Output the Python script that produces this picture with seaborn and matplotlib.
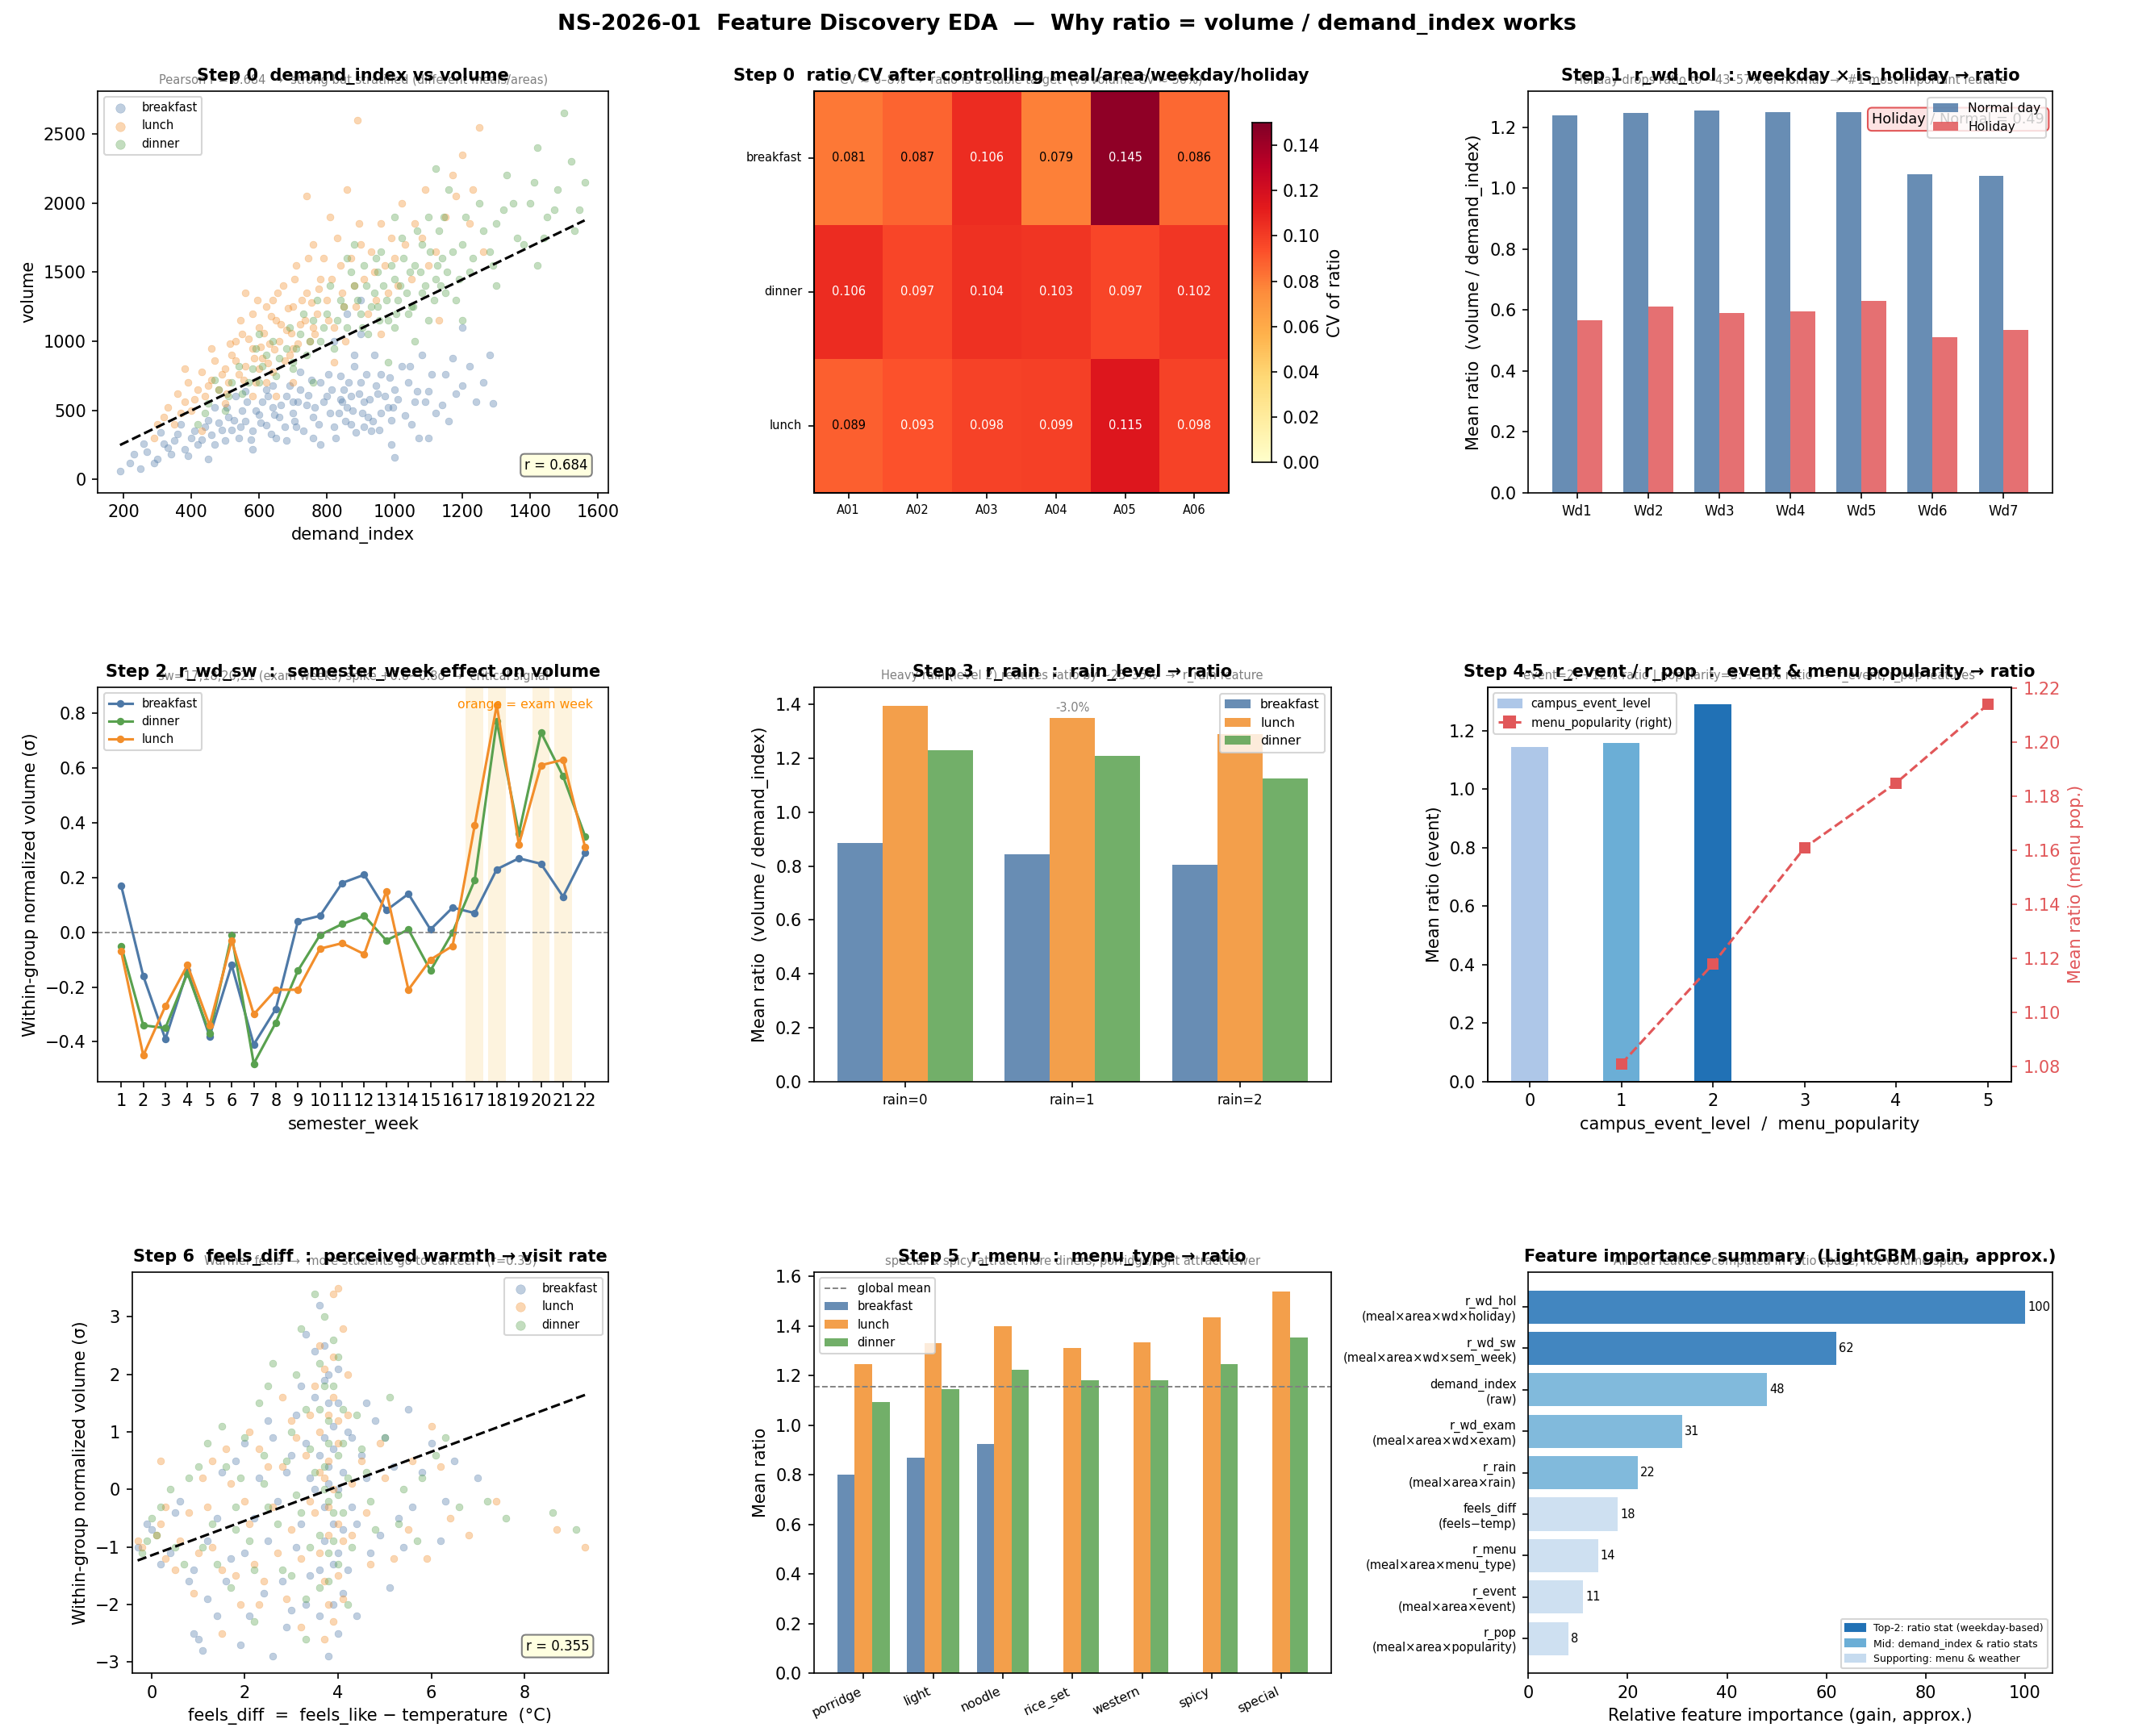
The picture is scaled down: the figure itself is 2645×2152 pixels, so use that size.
import numpy as np
import pandas as pd
import matplotlib
matplotlib.use("Agg")
import matplotlib.pyplot as plt
import seaborn as sns
from matplotlib.patches import Patch
from matplotlib.lines import Line2D

# ------------------------------------------------------------------ data
meals = ["breakfast", "lunch", "dinner"]

# Step 0: demand_index vs volume
p1_breakfast = [(190,60),(220,120),(250,80),(270,200),(300,150),(320,260),(340,180),(360,330),(380,220),
    (400,300),(420,250),(440,380),(460,320),(480,410),(500,280),(510,450),(520,360),(540,300),(550,500),
    (560,420),(580,350),(600,470),(610,560),(620,390),(640,520),(650,300),(660,450),(680,600),(700,480),
    (710,380),(720,650),(740,540),(760,450),(780,700),(800,600),(810,480),(820,380),(840,750),(850,650),
    (860,520),(870,400),(880,820),(900,700),(910,560),(920,450),(940,900),(950,620),(960,760),(980,520),
    (1000,650),(1020,820),(1040,700),(1060,560),(1080,900),(1100,640),(1120,480),(1150,760),(1180,620),
    (1220,820),(1260,700),(1290,550),(900,1050),(860,1200),(1000,160),(1100,300),(760,300),(680,280),
    (580,220),(450,150),(1200,1100),(780,250),(530,600),(470,520),(620,650),(700,560),(840,580),(960,480),
    (880,900),(1050,400),(900,1300),(820,1000),(930,350),(990,430),(870,600),(910,380),
    (230,180),(260,260),(290,120),(310,340),(330,230),(350,280),(370,400),(390,170),(410,350),(430,290),
    (450,430),(470,250),(490,360),(505,520),(525,430),(545,380),(565,560),(575,290),(590,500),(605,410),
    (625,600),(635,330),(645,470),(665,540),(675,380),(690,680),(705,420),(715,560),(730,350),(745,610),
    (755,720),(765,520),(775,400),(790,560),(805,760),(815,650),(825,300),(835,480),(845,560),(855,420),
    (865,700),(875,500),(885,340),(895,620),(905,480),(915,760),(925,580),(935,420),(945,680),(955,360),
    (970,600),(985,740),(995,520),(1010,580),(1030,460),(1045,820),(1065,640),(1090,560),(1110,760),
    (1140,540),(1170,880),(1200,680),(1240,560),(1280,900),(1160,420),(1070,300),(990,250),(720,780),
    (640,680),(560,640)]
p1_lunch = [(290,300),(320,450),(350,400),(380,560),(400,500),(420,650),(440,600),(460,720),(480,650),
    (500,800),(510,700),(520,900),(540,760),(550,1050),(560,820),(580,950),(590,700),(600,1100),(610,880),
    (620,1250),(630,980),(640,780),(650,1150),(660,1000),(670,1400),(680,1080),(690,900),(700,1250),
    (710,1550),(720,1120),(740,1350),(750,1000),(760,1700),(770,1200),(780,1450),(800,1300),(810,1900),
    (820,1100),(840,1550),(850,1250),(860,2100),(880,1400),(900,1700),(920,1200),(940,1500),(960,1850),
    (980,1350),(1000,1600),(1020,2000),(1050,1450),(1080,1750),(1100,1550),(1150,1900),(1200,2350),
    (1250,2550),(1260,1650),(890,2600),(740,2050),(560,1350),(460,950),(380,800),(650,600),(700,700),
    (820,850),(1130,1150),(960,1050),(430,350),(600,800),(580,1200),(640,1300),(530,1000),(700,950),
    (760,1100),(1180,2050),(1230,2100),
    (300,400),(330,520),(360,620),(370,480),(390,700),(410,580),(430,780),(450,680),(470,860),(490,760),
    (505,620),(515,980),(530,860),(545,1150),(555,720),(570,1020),(585,880),(595,1300),(605,960),(615,1060),
    (625,840),(635,1180),(645,940),(655,1350),(665,1120),(675,860),(685,1240),(695,1060),(705,1450),
    (715,980),(725,1300),(735,1150),(745,1600),(755,1280),(765,1050),(775,1380),(790,1600),(805,1150),
    (815,1450),(830,1750),(845,1350),(855,1000),(870,1600),(885,1250),(895,1850),(910,1450),(930,1650),
    (945,1300),(970,1550),(990,1750),(1010,1400),(1030,1700),(1060,1850),(1090,2100),(1120,1650),
    (1170,2200),(1220,1850),(580,600),(500,550),(620,700)]
p1_dinner = [(420,400),(450,550),(480,650),(500,500),(520,700),(550,620),(580,800),(600,700),(620,900),
    (650,750),(680,950),(700,850),(720,1050),(740,900),(760,1150),(780,1000),(800,1200),(820,950),
    (840,1300),(860,1100),(880,1400),(900,1200),(910,1550),(920,1050),(940,1350),(950,1250),(960,1650),
    (980,1150),(1000,1450),(1010,1300),(1020,1750),(1040,1200),(1060,1550),(1080,1350),(1100,1900),
    (1120,1450),(1140,1600),(1160,2100),(1180,1300),(1200,1700),(1220,1500),(1250,2000),(1280,1650),
    (1300,1850),(1330,2200),(1360,1750),(1400,2000),(1420,2400),(1450,1900),(1480,2100),(1500,2650),
    (1530,1800),(1560,2150),(1120,2250),(860,1600),(600,1050),(1060,1000),(1200,1150),(1420,1550),
    (980,850),(760,700),(1300,1400),(1050,1250),(1100,1150),(1150,1350),(1000,1100),(950,1500),
    (1080,1700),(1130,1800),
    (440,480),(470,720),(510,600),(540,820),(570,700),(590,950),(610,820),(640,1000),(660,880),(690,1100),
    (710,950),(730,1200),(750,1000),(770,1300),(790,1100),(810,1400),(830,1150),(850,1250),(870,1500),
    (890,1300),(905,1100),(915,1400),(930,1250),(945,1600),(955,1150),(965,1400),(975,1300),(990,1550),
    (1005,1200),(1015,1400),(1025,1600),(1035,1350),(1045,1500),(1055,1250),(1065,1800),(1075,1500),
    (1090,1400),(1105,1650),(1115,1300),(1125,1550),(1135,1400),(1145,1900),(1155,1500),(1170,1650),
    (1190,1450),(1210,1900),(1230,1600),(1260,1800),(1290,1550),(1320,1950),(1350,2000),(1380,1700),
    (1410,2150),(1440,1750),(1470,1950),(1520,2300),(1545,1950),(880,1700),(700,800),(1000,1900)]
p1_trend_slope = 1.187
p1_trend_intercept = 23.0
p1_r = 0.684

# Step 0: CV heatmap
cv_rows = ["breakfast", "dinner", "lunch"]
cv_cols = ["A01", "A02", "A03", "A04", "A05", "A06"]
cv_breakfast = [0.081, 0.087, 0.106, 0.079, 0.145, 0.086]
cv_dinner    = [0.106, 0.097, 0.104, 0.103, 0.097, 0.102]
cv_lunch     = [0.089, 0.093, 0.098, 0.099, 0.115, 0.098]

# Step 1: weekday x holiday
weekdays = ["Wd1", "Wd2", "Wd3", "Wd4", "Wd5", "Wd6", "Wd7"]
ratio_normal  = [1.240, 1.248, 1.256, 1.250, 1.250, 1.045, 1.040]
ratio_holiday = [0.565, 0.610, 0.590, 0.595, 0.630, 0.510, 0.535]
hol_over_normal = 0.49

# Step 2: semester week
sem_weeks = list(range(1, 23))
sw_breakfast = [0.17,-0.16,-0.39,-0.14,-0.38,-0.12,-0.41,-0.28,0.04,0.06,0.18,0.21,0.08,0.14,0.01,0.09,0.07,0.23,0.27,0.25,0.13,0.29]
sw_dinner    = [-0.05,-0.34,-0.35,-0.15,-0.37,-0.01,-0.48,-0.33,-0.14,-0.01,0.03,0.06,-0.03,0.01,-0.14,0.00,0.19,0.77,0.36,0.73,0.57,0.35]
sw_lunch     = [-0.07,-0.45,-0.27,-0.12,-0.34,-0.03,-0.30,-0.21,-0.21,-0.06,-0.04,-0.08,0.15,-0.21,-0.10,-0.05,0.39,0.83,0.32,0.61,0.63,0.31]
exam_weeks = [17, 18, 20, 21]

# Step 3: rain
rain_levels = ["rain=0", "rain=1", "rain=2"]
rain_breakfast = [0.885, 0.845, 0.805]
rain_lunch     = [1.395, 1.350, 1.290]
rain_dinner    = [1.230, 1.210, 1.125]
rain_note = "-3.0%"

# Step 4-5: event / popularity
event_levels = [0, 1, 2]
event_ratio = [1.145, 1.160, 1.292]
pop_levels = [1, 2, 3, 4, 5]
pop_ratio = [1.081, 1.118, 1.161, 1.185, 1.214]

# Step 6: feels_diff scatter
p7_breakfast = [(-0.3,-1.0),(-0.1,-0.6),(0.2,-1.3),(0.5,-0.4),(0.8,-1.6),(1.0,-2.6),(1.2,-0.9),(1.4,-2.2),
    (1.5,0.3),(1.7,-1.2),(1.9,-2.7),(2.0,0.8),(2.2,-0.5),(2.4,-1.8),(2.5,1.2),(2.7,-0.2),(2.9,-2.4),
    (3.0,0.6),(3.1,-1.0),(3.2,1.8),(3.3,-2.0),(3.4,0.2),(3.5,2.4),(3.6,-1.4),(3.7,0.9),(3.8,-2.9),
    (3.8,1.5),(3.9,-0.6),(4.0,2.1),(4.0,0.0),(4.1,-1.8),(4.2,1.0),(4.3,-0.3),(4.5,0.6),(4.7,-1.1),
    (5.0,0.9),(5.3,-0.5),(5.5,1.4),(5.8,0.3),(6.2,-0.9),(6.5,0.5),(7.0,0.2),(3.6,3.2),(2.6,-2.9),
    (4.4,-2.2),(5.1,-1.7),(3.3,2.7),(3.7,-0.3),(3.8,0.4),(3.9,1.1),(4.0,-1.1),(3.7,1.9),(3.9,-2.0),
    (3.6,0.6),(4.1,0.3),(1.1,-2.8),(0.9,-2.5),(4.6,1.5),(5.6,-0.3),
    (0.0,-0.7),(0.4,-1.1),(0.6,-0.2),(0.9,-1.4),(1.2,-1.9),(1.4,-0.5),(1.6,-1.6),(1.8,0.5),(2.0,-1.1),
    (2.1,-2.2),(2.3,0.2),(2.5,-0.9),(2.6,0.9),(2.8,-1.6),(2.9,0.3),(3.0,-2.1),(3.1,1.3),(3.2,-0.6),
    (3.3,0.8),(3.4,-1.5),(3.5,0.0),(3.5,1.6),(3.6,-2.2),(3.7,2.5),(3.7,-0.9),(3.8,0.1),(3.8,2.0),
    (3.9,-1.3),(3.9,0.7),(4.0,-2.5),(4.0,1.5),(4.1,-0.7),(4.2,-1.4),(4.3,0.9),(4.4,-0.6),(4.6,0.2),
    (4.8,1.2),(4.9,-0.8),(5.2,0.4),(5.4,-1.0),(6.0,0.8),(6.3,-0.2)]
p7_lunch = [(-0.2,-1.0),(0.1,-0.8),(0.3,-1.2),(0.3,-0.3),(0.6,-0.9),(0.9,-1.8),(1.1,0.2),(1.3,-1.0),
    (1.6,0.7),(1.8,-1.5),(2.0,-0.2),(2.1,1.0),(2.3,-2.0),(2.5,0.4),(2.7,-1.1),(2.8,1.6),(3.0,-0.7),
    (3.1,0.9),(3.2,-2.4),(3.4,1.3),(3.5,-0.4),(3.6,2.5),(3.7,-1.6),(3.8,0.5),(3.9,3.4),(3.9,-2.3),
    (4.0,1.2),(4.1,-0.9),(4.2,2.0),(4.3,0.1),(4.6,-0.4),(4.9,0.8),(5.2,-1.2),(5.6,0.5),(6.0,1.1),
    (6.4,-0.5),(7.4,-0.2),(8.7,-0.7),(9.3,-1.0),(1.5,-2.5),(0.2,0.5),(4.0,3.5),(3.7,0.2),(3.8,-0.8),
    (3.9,1.6),(4.0,-1.5),(3.6,1.0),(4.1,2.8),(3.8,-2.0),(2.2,-1.3),(1.2,-0.3),
    (-0.3,-0.9),(0.2,-0.6),(0.5,-1.4),(0.8,-0.4),(1.0,-1.1),(1.3,0.5),(1.5,-1.4),(1.7,0.1),(1.9,-2.0),
    (2.1,-0.6),(2.3,0.7),(2.4,-1.6),(2.6,-0.3),(2.8,0.4),(2.9,-1.9),(3.0,1.2),(3.2,-1.2),(3.3,0.6),
    (3.4,-0.2),(3.5,1.8),(3.6,-1.1),(3.6,0.3),(3.7,2.1),(3.7,-2.6),(3.8,1.3),(3.8,-0.3),(3.9,0.0),
    (3.9,2.3),(4.0,-0.6),(4.0,0.8),(4.1,-1.9),(4.2,1.3),(4.3,-0.8),(4.5,0.5),(4.7,-1.3),(5.0,0.2),
    (5.5,-0.7),(6.2,0.4),(6.8,-0.8),(5.9,-1.2)]
p7_dinner = [(-0.1,-0.9),(0.0,-0.5),(0.1,-0.8),(0.4,0.0),(0.7,-1.3),(1.0,0.4),(1.3,-0.6),(1.5,1.1),
    (1.7,-1.7),(1.9,0.2),(2.1,-0.9),(2.3,1.5),(2.5,-0.3),(2.6,2.2),(2.8,-1.4),(3.0,1.0),(3.1,-0.1),
    (3.2,2.8),(3.3,-1.9),(3.4,0.7),(3.5,3.4),(3.6,-0.8),(3.7,1.8),(3.8,-0.2),(3.9,2.6),(4.0,-1.3),
    (4.1,0.8),(4.2,-2.0),(4.4,1.3),(4.6,0.3),(4.8,-0.7),(5.1,1.6),(5.4,0.0),(5.7,-0.9),(6.1,0.6),
    (6.6,-0.3),(7.6,-0.5),(8.6,-0.4),(9.1,-0.7),(2.2,-2.3),(3.3,-2.6),(3.7,0.4),(3.8,1.2),(3.9,-0.9),
    (4.0,0.6),(3.6,2.2),(4.1,-0.4),(3.8,-1.6),(2.4,0.6),(1.8,-0.7),
    (-0.2,-1.1),(0.2,-0.3),(0.5,-1.0),(0.8,0.2),(1.1,-1.0),(1.2,0.8),(1.4,-1.3),(1.6,0.4),(1.8,-0.3),
    (2.0,0.9),(2.2,-1.4),(2.4,0.1),(2.5,1.8),(2.7,-0.6),(2.9,0.5),(3.0,-1.5),(3.1,2.0),(3.2,-0.4),
    (3.3,1.4),(3.4,-1.0),(3.5,0.3),(3.6,1.4),(3.6,-1.7),(3.7,0.0),(3.7,3.0),(3.8,-1.1),(3.8,0.8),
    (3.9,1.8),(3.9,-0.4),(4.0,2.3),(4.0,-0.1),(4.1,1.4),(4.2,0.2),(4.3,-1.0),(4.5,0.7),(4.7,-0.2),
    (5.0,0.9),(5.3,-0.6),(5.8,0.2),(6.3,0.9),(7.2,-0.2)]
p7_trend_slope = 0.30
p7_trend_intercept = -1.146
p7_r = 0.355

# Step 5: menu type
menu_types = ["porridge", "light", "noodle", "rice_set", "western", "spicy", "special"]
menu_breakfast = [0.800, 0.870, 0.925, np.nan, np.nan, np.nan, np.nan]
menu_lunch     = [1.245, 1.330, 1.400, 1.310, 1.335, 1.435, 1.540]
menu_dinner    = [1.095, 1.145, 1.225, 1.180, 1.180, 1.245, 1.355]
global_mean_ratio = 1.155

# Feature importance
feat_labels = ["r_wd_hol\n(meal×area×wd×holiday)", "r_wd_sw\n(meal×area×wd×sem_week)",
               "demand_index\n(raw)", "r_wd_exam\n(meal×area×wd×exam)", "r_rain\n(meal×area×rain)",
               "feels_diff\n(feels\u2212temp)", "r_menu\n(meal×area×menu_type)",
               "r_event\n(meal×area×event)", "r_pop\n(meal×area×popularity)"]
feat_importance = [100, 62, 48, 31, 22, 18, 14, 11, 8]
feat_group = ["top", "top", "mid", "mid", "mid", "sup", "sup", "sup", "sup"]

# ------------------------------------------------------------------ style
C_B, C_L, C_D = "#4E79A7", "#F28E2B", "#59A14F"
meal_colors = {"breakfast": C_B, "lunch": C_L, "dinner": C_D}
C_RED = "#E15759"
GROUP_COL = {"top": "#2171b5", "mid": "#6baed6", "sup": "#c6dbef"}

plt.rcParams["font.family"] = ["DejaVu Sans"]
fig = plt.figure(figsize=(2645 / 150, 2152 / 150), dpi=150)
W, H = 1568.0, 1276.0


def box(x0, y0, x1, y1):
    return [x0 / W, 1 - y1 / H, (x1 - x0) / W, (y1 - y0) / H]


def titles(ax, t, s):
    ax.text(0.5, 1.012, s, transform=ax.transAxes, ha="center", va="bottom",
            fontsize=7, color="grey")
    ax.set_title(t, fontsize=10, fontweight="bold", pad=6)


fig.suptitle("NS-2026-01  Feature Discovery EDA  \u2014  Why ratio = volume / demand_index works",
             fontsize=13, fontweight="bold", y=0.992)

# ---------------- panel 1
ax1 = fig.add_axes(box(72, 67, 447, 362))
for m, pts in zip(meals, [p1_breakfast, p1_lunch, p1_dinner]):
    a = np.array(pts, dtype=float)
    sns.scatterplot(x=a[:, 0], y=a[:, 1], ax=ax1, color=meal_colors[m], alpha=0.36, s=18,
                    linewidth=0.3, edgecolor=meal_colors[m], label=m)
allx = np.concatenate([np.array(p, float)[:, 0] for p in [p1_breakfast, p1_lunch, p1_dinner]])
lx = np.array([allx.min(), allx.max()])
ax1.plot(lx, p1_trend_slope * lx + p1_trend_intercept, "k--", lw=1.5)
ax1.text(0.96, 0.05, f"r = {p1_r:.3f}", transform=ax1.transAxes, ha="right", va="bottom", fontsize=8,
         bbox=dict(boxstyle="round,pad=0.3", fc="lightyellow", ec="grey"))
ax1.legend(loc="upper left", fontsize=7, markerscale=1.3)
ax1.set_xlabel("demand_index")
ax1.set_ylabel("volume")
ax1.set_xlim(125, 1630)
ax1.set_ylim(-95, 2810)
titles(ax1, "Step 0  demand_index vs volume",
       "Pearson r = 0.684  \u2192  strong but stratified (different meals/areas)")

# ---------------- panel 2 heatmap
ax2 = fig.add_axes(box(598, 67, 903, 362))
cax = fig.add_axes(box(920, 90, 934, 340))
cv_df = pd.DataFrame([cv_breakfast, cv_dinner, cv_lunch], index=cv_rows, columns=cv_cols)
sns.heatmap(cv_df, ax=ax2, cmap="YlOrRd", vmin=0, vmax=0.15, cbar_ax=cax, annot=False)
for i, r in enumerate(cv_rows):
    for j, c in enumerate(cv_cols):
        v = cv_df.loc[r, c]
        ax2.text(j + 0.5, i + 0.5, f"{v:.3f}", ha="center", va="center", fontsize=7,
                 color="white" if v > 0.09 else "black")
for sp in ax2.spines.values():
    sp.set_visible(True)
    sp.set_linewidth(1.0)
ax2.tick_params(labelsize=7)
ax2.set_yticklabels(cv_rows, rotation=0)
ax2.set_xlabel("")
ax2.set_ylabel("")
cax.set_ylabel("CV of ratio", fontsize=10)
cax.tick_params(labelsize=10)
cax.set_yticks([0, 0.02, 0.04, 0.06, 0.08, 0.10, 0.12, 0.14])
for sp in cax.spines.values():
    sp.set_visible(True)
titles(ax2, "Step 0  ratio CV after controlling meal/area/weekday/holiday",
       "CV \u2248 6\u20138%  \u2192  ratio is a stable target  (vs volume CV \u2248 50%)")

# ---------------- panel 3
ax3 = fig.add_axes(box(1123, 67, 1508, 362))
x = np.arange(len(weekdays))
ax3.bar(x - 0.175, ratio_normal, 0.35, color=C_B, alpha=0.85, label="Normal day")
ax3.bar(x + 0.175, ratio_holiday, 0.35, color=C_RED, alpha=0.85, label="Holiday")
ax3.set_xticks(x)
ax3.set_xticklabels(weekdays, fontsize=8)
ax3.set_ylabel("Mean ratio  (volume / demand_index)")
ax3.text(0.985, 0.93, f"Holiday / Normal = {hol_over_normal:.2f}", transform=ax3.transAxes,
         ha="right", va="center", fontsize=8.5,
         bbox=dict(boxstyle="round,pad=0.3", fc="#fde3e3", ec=C_RED))
leg = ax3.legend(loc="upper right", fontsize=7.5)
leg.set_zorder(10)
titles(ax3, "Step 1  r_wd_hol  :  weekday \u00d7 is_holiday \u2192 ratio",
       "Holiday drops ratio to ~43\u201357% of normal  \u2192  #1 most important feature")

# ---------------- panel 4
ax4 = fig.add_axes(box(72, 505, 447, 795))
for w in exam_weeks:
    ax4.axvspan(w - 0.4, w + 0.4, color="#fdebc8", alpha=0.6, lw=0)
sw_df = pd.DataFrame({"week": sem_weeks * 3,
                      "val": sw_breakfast + sw_dinner + sw_lunch,
                      "meal": ["breakfast"] * 22 + ["dinner"] * 22 + ["lunch"] * 22})
for m in ["breakfast", "dinner", "lunch"]:
    d = sw_df[sw_df.meal == m]
    sns.lineplot(data=d, x="week", y="val", ax=ax4, color=meal_colors[m], marker="o",
                 markersize=4.5, markeredgewidth=0, lw=1.5, label=m)
ax4.axhline(0, color="grey", ls="--", lw=0.8)
ax4.set_xticks(sem_weeks)
ax4.set_xlabel("semester_week")
ax4.set_ylabel("Within-group normalized volume (\u03c3)")
ax4.legend(loc="upper left", fontsize=7)
ax4.text(0.97, 0.97, "orange = exam week", transform=ax4.transAxes, ha="right", va="top",
         fontsize=7.5, color="darkorange")
titles(ax4, "Step 2  r_wd_sw  :  semester_week effect on volume",
       "sw=17,18,20,21 (exam weeks) spike +0.6~0.8\u03c3  \u2192  critical signal")

# ---------------- panel 5
ax5 = fig.add_axes(box(598, 505, 978, 795))
x = np.arange(len(rain_levels))
wd = 0.27
for k, (m, vals) in enumerate(zip(meals, [rain_breakfast, rain_lunch, rain_dinner])):
    ax5.bar(x + (k - 1) * wd, vals, wd, color=meal_colors[m], alpha=0.85, label=m)
ax5.text(x[1], rain_lunch[1] + 0.015, rain_note, ha="center", va="bottom", fontsize=7, color="grey")
ax5.set_xticks(x)
ax5.set_xticklabels(rain_levels, fontsize=8)
ax5.set_ylabel("Mean ratio  (volume / demand_index)")
ax5.legend(loc="upper right", fontsize=7.5)
titles(ax5, "Step 3  r_rain  :  rain_level \u2192 ratio",
       "Heavy rain (level 2) reduces ratio by ~25\u201335%  \u2192  r_rain feature")

# ---------------- panel 6
ax6 = fig.add_axes(box(1093, 505, 1478, 795))
ev_cols = ["#aec7e8", "#6baed6", "#2171b5"]
ax6.bar(event_levels, event_ratio, 0.4, color=ev_cols)
ax6.set_ylim(0, 1.35)
ax6.set_ylabel("Mean ratio (event)")
ax6.set_xlabel("campus_event_level  /  menu_popularity")
ax6b = ax6.twinx()
sns.lineplot(x=pop_levels, y=pop_ratio, ax=ax6b, color=C_RED, ls="--", marker="s",
             markersize=7, markeredgewidth=0, lw=1.5, legend=False)
ax6b.set_ylabel("Mean ratio (menu pop.)", color=C_RED)
ax6b.tick_params(axis="y", colors=C_RED)
ax6b.set_yticks([1.08, 1.10, 1.12, 1.14, 1.16, 1.18, 1.20, 1.22])
ax6b.set_ylim(1.0745, 1.2205)
ax6.set_xticks(range(6))
h = [Patch(color="#aec7e8", label="campus_event_level"),
     Line2D([0], [0], color=C_RED, ls="--", marker="s", markersize=7, label="menu_popularity (right)")]
ax6.legend(handles=h, loc="upper left", fontsize=7)
titles(ax6, "Step 4-5  r_event / r_pop  :  event & menu popularity \u2192 ratio",
       "event=2: +12% ratio | popularity=5: +18% ratio  \u2192  r_event, r_pop features")

# ---------------- panel 7
ax7 = fig.add_axes(box(97, 935, 447, 1230))
for m, pts in zip(meals, [p7_breakfast, p7_lunch, p7_dinner]):
    a = np.array(pts, dtype=float)
    sns.scatterplot(x=a[:, 0], y=a[:, 1], ax=ax7, color=meal_colors[m], alpha=0.36, s=18,
                    linewidth=0.3, edgecolor=meal_colors[m], label=m)
allx7 = np.concatenate([np.array(p, float)[:, 0] for p in [p7_breakfast, p7_lunch, p7_dinner]])
lx7 = np.array([allx7.min(), allx7.max()])
ax7.plot(lx7, p7_trend_slope * lx7 + p7_trend_intercept, "k--", lw=1.5)
ax7.text(0.96, 0.05, f"r = {p7_r:.3f}", transform=ax7.transAxes, ha="right", va="bottom", fontsize=8,
         bbox=dict(boxstyle="round,pad=0.3", fc="lightyellow", ec="grey"))
ax7.legend(loc="upper right", fontsize=7, markerscale=1.3)
ax7.set_xlabel("feels_diff  =  feels_like \u2212 temperature  (\u00b0C)")
ax7.set_ylabel("Within-group normalized volume (\u03c3)")
ax7.set_xticks([0, 2, 4, 6, 8])
ax7.set_xlim(-0.42, 9.8)
ax7.set_ylim(-3.2, 3.78)
titles(ax7, "Step 6  feels_diff  :  perceived warmth \u2192 visit rate",
       "Warmer feels  \u2192  more students go to canteen  (r=0.35)")

# ---------------- panel 8
ax8 = fig.add_axes(box(598, 935, 978, 1230))
x = np.arange(len(menu_types))
wd = 0.25
ax8.axhline(global_mean_ratio, color="grey", ls="--", lw=0.9, label="global mean")
for k, (m, vals) in enumerate(zip(meals, [menu_breakfast, menu_lunch, menu_dinner])):
    ax8.bar(x + (k - 1) * wd, vals, wd, color=meal_colors[m], alpha=0.85, label=m)
ax8.set_xticks(x)
ax8.set_xticklabels(menu_types, rotation=25, ha="right", fontsize=7.5)
ax8.set_ylabel("Mean ratio")
ax8.legend(loc="upper left", fontsize=7)
titles(ax8, "Step 5  r_menu  :  menu_type \u2192 ratio",
       "special & spicy attract more diners; porridge/light attract fewer")

# ---------------- panel 9
ax9 = fig.add_axes(box(1123, 935, 1508, 1230))
y = np.arange(len(feat_labels))
ax9.barh(y, feat_importance, 0.8, color=[GROUP_COL[g] for g in feat_group], alpha=0.85)
for yi, v in zip(y, feat_importance):
    ax9.text(v + 0.5, yi, f"{v}", va="center", ha="left", fontsize=7)
ax9.set_yticks(y)
ax9.set_yticklabels(feat_labels, fontsize=7)
ax9.invert_yaxis()
ax9.set_xlim(0, 105.5)
ax9.set_xlabel("Relative feature importance (gain, approx.)")
h9 = [Patch(color=GROUP_COL["top"], label="Top-2: ratio stat (weekday-based)"),
      Patch(color=GROUP_COL["mid"], label="Mid: demand_index & ratio stats"),
      Patch(color=GROUP_COL["sup"], label="Supporting: menu & weather")]
ax9.legend(handles=h9, loc="lower right", fontsize=6)
titles(ax9, "Feature importance summary  (LightGBM gain, approx.)",
       "All stat features computed in ratio space, not volume space")

fig.savefig("out.png", dpi=150)
